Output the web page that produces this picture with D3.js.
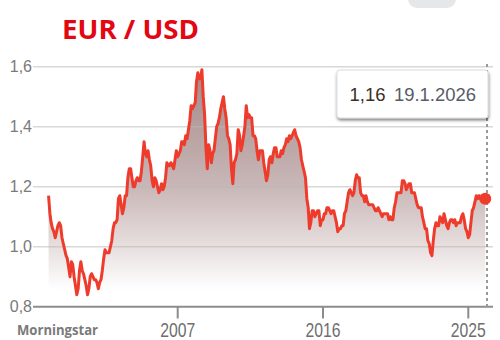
<!DOCTYPE html>
<html>
<head>
<meta charset="utf-8">
<script src="https://cdn.jsdelivr.net/npm/d3@7"></script>
<style>
  body { margin: 0; background: #fff; }
  svg { display: block; }
</style>
</head>
<body>
<script>
// EUR/USD, monthly, Jan 1999 .. Jan 2026
const eurusd = [
  1.17, 1.11, 1.08, 1.06, 1.05, 1.03, 1.05, 1.07, 1.08, 1.07, 1.03, 1.01,
  0.99, 0.97, 0.96, 0.93, 0.90, 0.95, 0.94, 0.90, 0.87, 0.84, 0.86, 0.92,
  0.95, 0.92, 0.91, 0.89, 0.87, 0.84, 0.86, 0.90, 0.91, 0.90, 0.89, 0.89,
  0.88, 0.86, 0.88, 0.89, 0.92, 0.96, 0.99, 0.98, 0.98, 0.98, 1.00, 1.02,
  1.06, 1.08, 1.08, 1.09, 1.16, 1.17, 1.14, 1.11, 1.13, 1.17, 1.17, 1.23,
  1.26, 1.26, 1.23, 1.20, 1.20, 1.22, 1.23, 1.22, 1.22, 1.25, 1.30, 1.35,
  1.31, 1.30, 1.32, 1.29, 1.27, 1.22, 1.20, 1.23, 1.22, 1.20, 1.18, 1.19,
  1.21, 1.19, 1.20, 1.23, 1.28, 1.27, 1.27, 1.28, 1.27, 1.26, 1.29, 1.32,
  1.30, 1.31, 1.32, 1.35, 1.35, 1.34, 1.37, 1.36, 1.39, 1.42, 1.47, 1.46,
  1.47, 1.48, 1.55, 1.58, 1.56, 1.56, 1.59, 1.50, 1.44, 1.33, 1.26, 1.34,
  1.32, 1.28, 1.31, 1.32, 1.36, 1.40, 1.41, 1.43, 1.46, 1.48, 1.50, 1.46,
  1.43, 1.37, 1.36, 1.34, 1.26, 1.21, 1.28, 1.29, 1.31, 1.39, 1.37, 1.32,
  1.34, 1.37, 1.40, 1.47, 1.43, 1.44, 1.43, 1.43, 1.37, 1.37, 1.36, 1.32,
  1.29, 1.32, 1.32, 1.32, 1.28, 1.25, 1.22, 1.24, 1.29, 1.30, 1.28, 1.31,
  1.33, 1.33, 1.30, 1.30, 1.30, 1.32, 1.31, 1.33, 1.34, 1.36, 1.35, 1.37,
  1.36, 1.37, 1.38, 1.39, 1.37, 1.36, 1.35, 1.33, 1.29, 1.27, 1.25, 1.23,
  1.16, 1.13, 1.06, 1.08, 1.12, 1.12, 1.10, 1.11, 1.12, 1.12, 1.07, 1.09,
  1.09, 1.11, 1.11, 1.13, 1.13, 1.12, 1.11, 1.12, 1.12, 1.10, 1.08, 1.05,
  1.06, 1.06, 1.07, 1.07, 1.11, 1.12, 1.15, 1.18, 1.19, 1.18, 1.17, 1.18,
  1.22, 1.24, 1.23, 1.23, 1.18, 1.17, 1.17, 1.15, 1.17, 1.15, 1.14, 1.14,
  1.14, 1.14, 1.13, 1.12, 1.12, 1.13, 1.12, 1.11, 1.10, 1.11, 1.11, 1.11,
  1.11, 1.09, 1.10, 1.09, 1.09, 1.13, 1.15, 1.18, 1.18, 1.18, 1.18, 1.22,
  1.22, 1.21, 1.19, 1.20, 1.21, 1.21, 1.18, 1.18, 1.18, 1.16, 1.14, 1.13,
  1.13, 1.13, 1.10, 1.08, 1.06, 1.06, 1.02, 1.01, 0.98, 0.97, 1.02, 1.06,
  1.08, 1.07, 1.07, 1.10, 1.09, 1.08, 1.11, 1.09, 1.07, 1.06, 1.08, 1.09,
  1.09, 1.08, 1.09, 1.07, 1.08, 1.08, 1.08, 1.10, 1.11, 1.09, 1.06, 1.05,
  1.03, 1.04, 1.08, 1.12, 1.13, 1.15, 1.17, 1.16, 1.17, 1.16, 1.16, 1.17,
  1.16
];
const yTicks = [0.8, 1.0, 1.2, 1.4, 1.6];
const xTicks = [2007, 2016, 2025];
const lastValue = "1,16";
const lastDate = "19.1.2026";

const width = 500, height = 340;
const lineColor = "#ee3b2b";

const data = eurusd.map((v, i) => ({
  date: i === eurusd.length - 1 ? new Date(2026, 0, 19) : d3.timeMonth.offset(new Date(1999, 0, 1), i),
  value: v
}));

const x = d3.scaleTime()
  .domain([new Date(2007, 0, 1), new Date(2025, 0, 1)])
  .range([177.7, 468.3]);
const y = d3.scaleLinear().domain([0.8, 1.6]).range([306.7, 66.7]);
const fmt = v => d3.format(".1f")(v).replace(".", ",");

const svg = d3.select("body").append("svg")
  .attr("width", width).attr("height", height);

const defs = svg.append("defs");
const grad = defs.append("linearGradient").attr("id", "fill")
  .attr("gradientUnits", "userSpaceOnUse")
  .attr("x1", 0).attr("x2", 0).attr("y1", 66).attr("y2", 290);
grad.append("stop").attr("offset", "0%").attr("stop-color", "#a48787");
grad.append("stop").attr("offset", "54%").attr("stop-color", "#c9b7b7");
grad.append("stop").attr("offset", "81%").attr("stop-color", "#e8dfdf");
grad.append("stop").attr("offset", "100%").attr("stop-color", "#ffffff");

const shadow = defs.append("filter").attr("id", "shadow")
  .attr("x", "-10%").attr("y", "-20%").attr("width", "120%").attr("height", "150%");
shadow.append("feDropShadow").attr("dx", 0.5).attr("dy", 2).attr("stdDeviation", 1.5)
  .attr("flood-color", "#000").attr("flood-opacity", 0.5);

// grey button stub top right
svg.append("rect").attr("x", 408).attr("y", -20).attr("width", 48).attr("height", 28)
  .attr("rx", 9).attr("fill", "#e6e7e9");

// title
svg.append("text").attr("x", 62).attr("y", 39)
  .attr("font-family", "'Open Sans', sans-serif").attr("font-weight", 700)
  .attr("font-size", 26).attr("fill", "#e30613")
  .attr("textLength", 137).attr("lengthAdjust", "spacingAndGlyphs")
  .text("EUR / USD");

// area
svg.append("path").datum(data)
  .attr("fill", "url(#fill)")
  .attr("d", d3.area().x(d => x(d.date)).y0(290).y1(d => y(d.value)));

// grid
svg.append("g").selectAll("line").data(yTicks.slice(1)).join("line")
  .attr("x1", 33).attr("x2", 493)
  .attr("y1", d => y(d)).attr("y2", d => y(d))
  .attr("stroke", "#b8b8b8").attr("stroke-opacity", 0.55).attr("stroke-width", 1.5);

// y labels
svg.append("g").selectAll("text").data(yTicks).join("text")
  .attr("x", 32).attr("y", d => y(d) + 5.5)
  .attr("text-anchor", "end")
  .attr("font-family", "'Liberation Sans', Arial, sans-serif")
  .attr("font-size", 16).attr("fill", "#7a7a7a")
  .text(fmt);

// baseline + ticks
svg.append("line").attr("x1", 33).attr("x2", 493)
  .attr("y1", y(0.8)).attr("y2", y(0.8))
  .attr("stroke", "#8c8c8c").attr("stroke-width", 2);
svg.append("g").selectAll("line").data(xTicks).join("line")
  .attr("x1", d => x(new Date(d, 0, 1))).attr("x2", d => x(new Date(d, 0, 1)))
  .attr("y1", y(0.8)).attr("y2", 318.5)
  .attr("stroke", "#8c8c8c").attr("stroke-width", 2);
svg.append("g").selectAll("text").data(xTicks).join("text")
  .attr("x", d => x(new Date(d, 0, 1))).attr("y", 337)
  .attr("text-anchor", "middle")
  .attr("font-family", "'Liberation Sans', Arial, sans-serif")
  .attr("font-size", 21).attr("fill", "#6e6e6e")
  .attr("textLength", 35).attr("lengthAdjust", "spacingAndGlyphs")
  .text(d => d);

svg.append("text").attr("x", 17).attr("y", 335)
  .attr("font-family", "'Open Sans', sans-serif").attr("font-weight", 700)
  .attr("font-size", 14).attr("fill", "#7a7a7a")
  .attr("textLength", 81).attr("lengthAdjust", "spacingAndGlyphs")
  .text("Morningstar");

// line
svg.append("path").datum(data)
  .attr("fill", "none").attr("stroke", lineColor).attr("stroke-width", 3)
  .attr("stroke-linejoin", "round")
  .attr("d", d3.line().x(d => x(d.date)).y(d => y(d.value)));

// dotted cursor
const last = data[data.length - 1];
svg.append("line").attr("x1", 487).attr("x2", 487)
  .attr("y1", 64).attr("y2", y(0.8))
  .attr("stroke", "#999").attr("stroke-width", 2).attr("stroke-dasharray", "3,3");

svg.append("circle").attr("cx", x(last.date)).attr("cy", y(last.value))
  .attr("r", 6).attr("fill", lineColor);

// tooltip
const tip = svg.append("g");
tip.append("rect").attr("x", 337).attr("y", 70).attr("width", 151).attr("height", 48)
  .attr("rx", 3).attr("fill", "#fff").attr("stroke", "#d4d4d4").attr("stroke-width", 0.8)
  .attr("filter", "url(#shadow)");
tip.append("text").attr("x", 349.5).attr("y", 101)
  .attr("font-family", "'Liberation Sans', Arial, sans-serif").attr("font-size", 19)
  .attr("fill", "#3a3026").attr("textLength", 36).attr("lengthAdjust", "spacingAndGlyphs")
  .text(lastValue);
tip.append("text").attr("x", 394).attr("y", 101)
  .attr("font-family", "'Liberation Sans', Arial, sans-serif").attr("font-size", 19)
  .attr("fill", "#575c66").attr("textLength", 82).attr("lengthAdjust", "spacingAndGlyphs")
  .text(lastDate);
</script>
</body>
</html>
